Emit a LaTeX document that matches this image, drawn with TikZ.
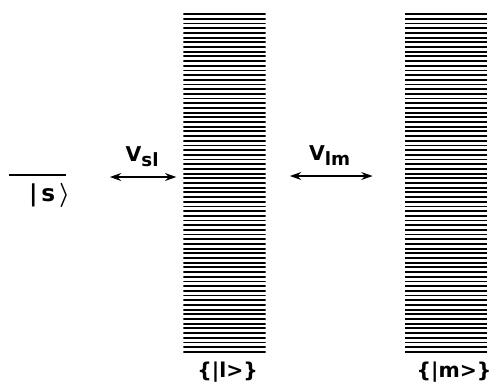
\documentclass[tikz,border=0pt]{standalone}
\usepackage{amsmath}
\usepackage{fontspec}
\setmainfont{DejaVu Sans}
\usepackage{tikz}
\usetikzlibrary{positioning, arrows.meta}

\newcommand{\lowsub}[1]{\raisebox{-0.45ex}{\fontsize{13}{14}\selectfont #1}}

\tikzset{
  band/.style={minimum width=2.05cm, minimum height=8.5cm, inner sep=0pt,
    path picture={
      \foreach \k in {0,...,72}
        \draw[line width=1.3pt]
          ([yshift=-0.03cm-\k*0.1172cm]path picture bounding box.north west) --
          ([yshift=-0.03cm-\k*0.1172cm]path picture bounding box.north east);
    }},
  level/.style={minimum width=1.4cm, inner sep=0pt, minimum height=0pt},
  coupling/.style={{Stealth[length=8pt,width=5.5pt]}-{Stealth[length=8pt,width=5.5pt]}, line width=1.5pt},
  lbl/.style={font=\bfseries\fontsize{14.5}{16}\selectfont, inner sep=1pt}
}

\begin{document}
\begin{tikzpicture}[x=0.025cm, y=-0.025cm, every node/.style={align=center}]
  \useasboundingbox (0,0) rectangle (492,390);
  % discrete state and the two quasi-continua
  \node[level] (slevel) at (37.5,175) {};
  \draw[line width=1.5pt] (slevel.west) -- (slevel.east);
  \node[lbl, font=\bfseries\fontsize{16.5}{18}\selectfont, below=0.16cm of slevel, xshift=0.3cm] (slabel) {|\,s\,$\boldsymbol{\rangle}$};
  \node[band] (lband) at (224.5,183) {};
  \node[band] (mband) at (446,183) {};
  \node[lbl, below=0.16cm of lband, xshift=0.08cm] (llabel) {\{|l>\}};
  \node[lbl, below=0.18cm of mband, xshift=0.2cm] (mlabel) {\{|m>\}};
  % couplings
  \draw[coupling, shorten <=1.1cm, shorten >=0.17cm] (slevel.east |- 0,177) -- (lband.west |- 0,177)
    node[lbl, pos=0.65, above=0.2cm] (vsl) {V\lowsub{sl}};
  \draw[coupling, shorten <=0.6cm, shorten >=0.8cm] (lband.east |- 0,176) -- (mband.west |- 0,176)
    node[lbl, pos=0.46, above=0.2cm] (vlm) {V\lowsub{lm}};
\end{tikzpicture}
\end{document}
